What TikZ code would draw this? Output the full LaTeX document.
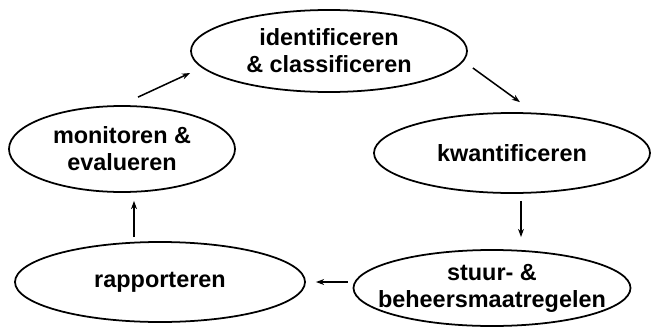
\documentclass[tikz,border=0pt]{standalone}
\usepackage{fontspec}
\setmainfont{Liberation Sans}
\usepackage{tikz}
\usetikzlibrary{shapes.geometric,arrows.meta,calc}

\begin{document}
\begin{tikzpicture}[x=0.03cm, y=0.03cm,
            stage/.style = {draw, ellipse, line width=1.5pt, align=center, inner xsep=-0.6cm, inner ysep=0pt,
                            font=\fontsize{20}{23}\selectfont\bfseries},
             flow/.style = {line width=1.3pt, -{Stealth[length=7pt,width=5pt]}}]
        \useasboundingbox (0,0) rectangle (655,327);
        \node[stage, minimum width=8.28cm, minimum height=2.46cm] (ident) at (329,276) {identificeren\\\& classificeren};
        \node[stage, minimum width=6.78cm, minimum height=2.58cm] (mon)   at (122,178) {monitoren \&\\evalueren};
        \node[stage, minimum width=8.28cm, minimum height=2.40cm] (kwant) at (512,174) {kwantificeren};
        \node[stage, minimum width=8.70cm, minimum height=2.40cm] (rapp)  at (160,45)  {rapporteren};
        \node[stage, minimum width=8.31cm, minimum height=2.28cm] (stuur) at (492,39)  {stuur- \&\\beheersmaatregelen};

        \draw[flow] ($(mon.north)+(16,8)$)   -- ($(ident.west)+(0,-22)$);
        \draw[flow] ($(ident.east)+(5,-17)$) -- ($(kwant.north)+(8,10)$);
        \draw[flow] ($(kwant.south)+(9,-7)$) -- ($(stuur.north)+(29,12)$);
        \draw[flow] ($(stuur.west)+(-5,6)$)  -- ($(rapp.east)+(10,0)$);
        \draw[flow] ($(rapp.north)+(-26,4)$) -- ($(mon.south)+(12,-8)$);
\end{tikzpicture}
\end{document}
